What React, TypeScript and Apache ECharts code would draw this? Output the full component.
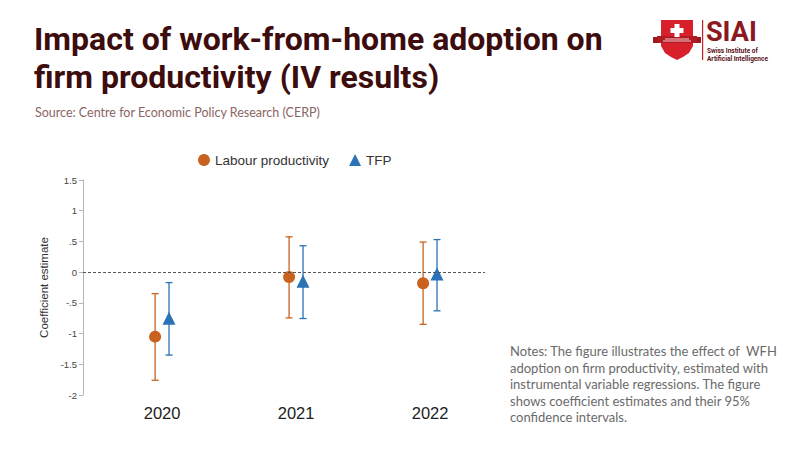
import { useEffect, useRef } from 'react';
import * as echarts from 'echarts';

const years = ['2020', '2021', '2022'];
const labourEst = [-1.05, -0.08, -0.18];
const labourLow = [-1.76, -0.745, -0.85];
const labourHigh = [-0.35, 0.575, 0.49];
const tfpEst = [-0.75, -0.15, -0.03];
const tfpLow = [-1.35, -0.755, -0.63];
const tfpHigh = [-0.17, 0.43, 0.53];
const yTickLabels: Record<string, string> = {
  '1.5': '1.5',
  '1': '1',
  '0.5': '.5',
  '0': '0',
  '-0.5': '-.5',
  '-1': '-1',
  '-1.5': '-1.5',
  '-2': '-2',
};

const noteLines = [
  'Notes: The figure illustrates the effect of  WFH',
  'adoption on firm productivity, estimated with',
  'instrumental variable regressions. The figure',
  'shows coefficient estimates and their 95%',
  'confidence intervals.',
];

const ORANGE = '#c8621f';
const BLUE = '#2b72b6';
const DODGE = 0.052;

function errorBars(color: string) {
  return (params: any, api: any) => {
    const x = api.value(0);
    const lo = api.coord([x, api.value(1)]);
    const hi = api.coord([x, api.value(2)]);
    const style = { stroke: color, lineWidth: 1.3 };
    return {
      type: 'group',
      children: [
        { type: 'line', shape: { x1: lo[0], y1: lo[1], x2: hi[0], y2: hi[1] }, style },
        { type: 'line', shape: { x1: lo[0] - 3.5, y1: lo[1], x2: lo[0] + 3.5, y2: lo[1] }, style },
        { type: 'line', shape: { x1: hi[0] - 3.5, y1: hi[1], x2: hi[0] + 3.5, y2: hi[1] }, style },
      ],
    };
  };
}

export default function App() {
  const chartRef = useRef<HTMLDivElement>(null);

  useEffect(() => {
    document.body.style.margin = '0';
    if (!chartRef.current) return;
    const chart = echarts.init(chartRef.current, undefined, { renderer: 'svg' });

    const labourPts = years.map((_, i) => [i - DODGE, labourEst[i]]);
    const tfpPts = years.map((_, i) => [i + DODGE, tfpEst[i]]);
    const labourCI = years.map((_, i) => [i - DODGE, labourLow[i], labourHigh[i]]);
    const tfpCI = years.map((_, i) => [i + DODGE, tfpLow[i], tfpHigh[i]]);

    chart.setOption({
      animation: false,
      backgroundColor: '#ffffff',
      grid: { left: 83, right: 315, top: 180, bottom: 55 },
      legend: {
        top: 148,
        left: 193,
        itemGap: 20,
        itemWidth: 12,
        itemHeight: 12,
        textStyle: { fontSize: 13.5, color: '#333', fontFamily: 'Liberation Sans' },
        data: [
          { name: 'Labour productivity', icon: 'circle' },
          { name: 'TFP', icon: 'triangle' },
        ],
      },
      xAxis: {
        type: 'value',
        min: -0.59,
        max: 2.41,
        splitLine: { show: false },
        axisLine: { show: false },
        axisTick: { show: false },
        axisLabel: {
          customValues: [0, 1, 2],
          formatter: (v: number) => years[Math.round(v)] ?? '',
          fontSize: 16.5,
          color: '#222',
          margin: 9,
          fontFamily: 'Liberation Sans',
        },
      },
      yAxis: {
        type: 'value',
        min: -2,
        max: 1.5,
        interval: 0.5,
        name: 'Coefficient estimate',
        nameLocation: 'middle',
        nameGap: 33,
        nameTextStyle: { fontSize: 11.5, color: '#333', fontFamily: 'Liberation Sans' },
        splitLine: { show: false },
        axisLine: { show: true, onZero: false, lineStyle: { color: '#b5b5b5', width: 1 } },
        axisTick: { show: true, length: 4, lineStyle: { color: '#b5b5b5' } },
        axisLabel: {
          fontSize: 9.5,
          color: '#444',
          margin: 6,
          fontFamily: 'Liberation Sans',
          formatter: (v: number) => yTickLabels[String(v)] ?? String(v),
        },
      },
      series: [
        {
          name: 'Labour CI',
          type: 'custom',
          renderItem: errorBars(ORANGE),
          encode: { x: 0, y: [1, 2] },
          data: labourCI,
          z: 1,
          markLine: {
            silent: true,
            symbol: 'none',
            label: { show: false },
            lineStyle: { color: '#555', type: [3, 2], width: 1 },
            data: [{ yAxis: 0 }],
          },
        },
        {
          name: 'TFP CI',
          type: 'custom',
          renderItem: errorBars(BLUE),
          encode: { x: 0, y: [1, 2] },
          data: tfpCI,
          z: 1,
        },
        {
          name: 'Labour productivity',
          type: 'scatter',
          symbol: 'circle',
          symbolSize: 12,
          itemStyle: { color: ORANGE, opacity: 1 },
          data: labourPts,
          z: 3,
        },
        {
          name: 'TFP',
          type: 'scatter',
          symbol: 'triangle',
          symbolSize: 13,
          itemStyle: { color: BLUE, opacity: 1 },
          data: tfpPts,
          z: 3,
        },
      ],
      graphic: [
        {
          type: 'text',
          left: 34,
          top: 20,
          style: {
            text: 'Impact of work-from-home adoption on\nfirm productivity (IV results)',
            font: 'bold 32px Roboto',
            lineHeight: 38,
            fill: '#3d0c0c',
          },
        },
        {
          type: 'text',
          left: 35,
          top: 106,
          style: {
            text: 'Source: Centre for Economic Policy Research (CERP)',
            font: '12.5px Lato',
            fill: '#8a6464',
          },
        },
        {
          type: 'text',
          left: 510,
          top: 343,
          style: {
            text: noteLines.join('\n'),
            font: '13px Lato',
            lineHeight: 16.5,
            fill: '#6a6a6a',
          },
        },
        // logo
        {
          type: 'group',
          left: 653,
          top: 20,
          children: [
            {
              type: 'polygon',
              shape: {
                points: [
                  [8, 0], [40, 0], [40, 26], [36, 33], [30, 37], [24, 40],
                  [18, 37], [12, 33], [8, 26],
                ],
              },
              style: { fill: '#d7202c' },
            },
            { type: 'rect', shape: { x: 0, y: 17, width: 8, height: 6 }, style: { fill: '#9c1820' } },
            { type: 'rect', shape: { x: 40, y: 17, width: 8, height: 6 }, style: { fill: '#9c1820' } },
            { type: 'rect', shape: { x: 4, y: 16, width: 40, height: 7 }, style: { fill: '#b31b24' } },
            { type: 'rect', shape: { x: 21.5, y: 4, width: 5, height: 13 }, style: { fill: '#fff' } },
            { type: 'rect', shape: { x: 17.5, y: 8, width: 13, height: 5 }, style: { fill: '#fff' } },
            { type: 'rect', shape: { x: 12, y: 18.5, width: 24, height: 1 }, style: { fill: '#f1c8c8' } },
            { type: 'rect', shape: { x: 10, y: 20.5, width: 28, height: 1 }, style: { fill: '#f1c8c8' } },
          ],
        },
        {
          type: 'rect',
          shape: { x: 702, y: 20, width: 1.2, height: 40 },
          style: { fill: '#c2202a' },
        },
        {
          type: 'text',
          left: 706,
          top: 18,
          style: { text: 'SIAI', font: 'bold 27px Roboto', lineHeight: 26, fill: '#8b1a20' },
        },
        {
          type: 'text',
          left: 707,
          top: 47,
          style: { text: 'Swiss Institute of', font: 'bold 6.5px Roboto', lineHeight: 8, fill: '#5a1016' },
        },
        {
          type: 'text',
          left: 707,
          top: 55,
          style: { text: 'Artificial Intelligence', font: 'bold 6.5px Roboto', lineHeight: 8, fill: '#5a1016' },
        },
      ],
    });

    return () => {
      chart.dispose();
    };
  }, []);

  return <div ref={chartRef} style={{ width: 800, height: 450 }} />;
}
